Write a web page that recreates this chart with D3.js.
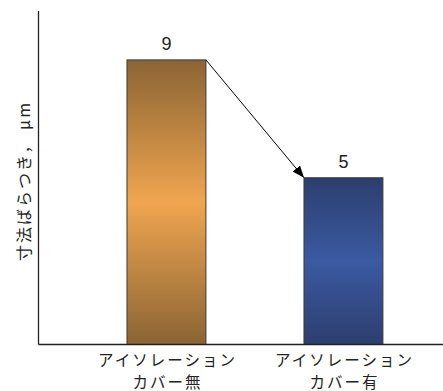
<!DOCTYPE html>
<html><head><meta charset="utf-8">
<script src="https://cdn.jsdelivr.net/npm/d3@7"></script>
<style>html,body{margin:0;padding:0;background:#fff;overflow:hidden;}</style>
</head><body>
<script>
const categories = ["アイソレーション\nカバー無", "アイソレーション\nカバー有"];
const values = [9, 5];
const yLabel = "寸法ばらつき， μm";
const gradients = [["#8a6434", "#f0a550"], ["#2c3e6e", "#3b5aa2"]];

const W = 443, H = 391;
const svg = d3.select("body").append("svg").attr("width", W).attr("height", H).style("display", "block");
const axX = 38.5, baseY = 344.5, topY = 11;
const x = d3.scaleBand().domain(categories).range([38.5, 471.4]).paddingInner(0.554).paddingOuter(0.5);
// schematic axis: non-zero baseline
const y = d3.scaleLinear().domain([-0.66, 10.66]).range([baseY, topY]);

const defs = svg.append("defs");
gradients.forEach((g, i) => {
  const lg = defs.append("linearGradient").attr("id", "g" + i).attr("x1", 0).attr("x2", 0).attr("y1", 0).attr("y2", 1);
  lg.append("stop").attr("offset", "0%").attr("stop-color", g[0]);
  lg.append("stop").attr("offset", "50%").attr("stop-color", g[1]);
  lg.append("stop").attr("offset", "100%").attr("stop-color", g[0]);
});
defs.append("marker").attr("id", "arr").attr("viewBox", "0 0 10 10").attr("refX", 10).attr("refY", 5)
  .attr("markerWidth", 12).attr("markerHeight", 12).attr("markerUnits", "userSpaceOnUse").attr("orient", "auto")
  .append("path").attr("d", "M0,1 L10,5 L0,9 Z").attr("fill", "#000");

svg.selectAll("rect.bar").data(values).join("rect").attr("class", "bar")
  .attr("x", (d, i) => x(categories[i]))
  .attr("y", d => y(d))
  .attr("width", x.bandwidth())
  .attr("height", d => y.range()[0] - y(d))
  .attr("fill", (d, i) => `url(#g${i})`)
  .attr("stroke", "#3a3a3a").attr("stroke-width", 1);

svg.selectAll("text.val").data(values).join("text").attr("class", "val")
  .attr("x", (d, i) => x(categories[i]) + x.bandwidth() / 2)
  .attr("y", d => y(d) - 10)
  .attr("text-anchor", "middle")
  .attr("font-family", "Liberation Sans, Arial, sans-serif").attr("font-size", 18).attr("fill", "#222")
  .text(d => d);

// arrow from top-right of first bar to top-left of second
svg.append("line")
  .attr("x1", x(categories[0]) + x.bandwidth()).attr("y1", y(values[0]))
  .attr("x2", x(categories[1])).attr("y2", y(values[1]))
  .attr("stroke", "#000").attr("stroke-width", 1).attr("marker-end", "url(#arr)");

// axes
svg.append("line").attr("x1", axX).attr("x2", axX).attr("y1", topY).attr("y2", baseY).attr("stroke", "#222").attr("stroke-width", 1.3);
svg.append("line").attr("x1", axX).attr("x2", W).attr("y1", baseY).attr("y2", baseY).attr("stroke", "#222").attr("stroke-width", 1.3);

// category labels (one text per line)
categories.forEach(c => {
  c.split("\n").forEach((l, j) => {
    svg.append("text").attr("text-anchor", "middle")
      .attr("font-family", "Noto Sans CJK JP").attr("font-size", 15.5).attr("fill", "#222")
      .attr("letter-spacing", "2px")
      .attr("x", x(c) + x.bandwidth() / 2 + 1).attr("y", 366 + j * 22).text(l);
  });
});

svg.append("text").attr("transform", "translate(30,181) rotate(-90)")
  .attr("text-anchor", "middle").attr("font-family", "Noto Sans CJK JP").attr("font-size", 16).attr("fill", "#222")
  .attr("letter-spacing", "2px")
  .text(yLabel);
</script>
</body></html>
